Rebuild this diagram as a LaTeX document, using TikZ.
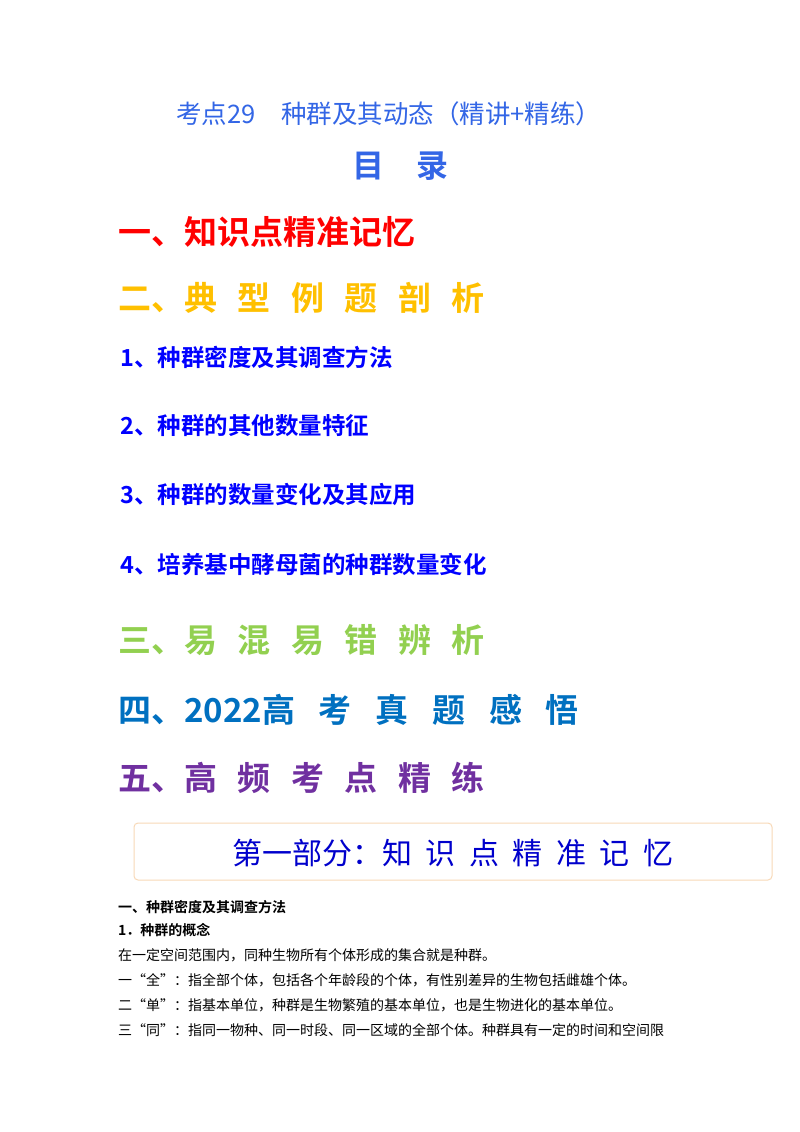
\documentclass[tikz,border=0pt]{standalone}
\usepackage{fontspec}
\newfontfamily\cjk{Noto Sans CJK SC}
\newfontfamily\cjkb{Noto Sans CJK SC Bold}
\definecolor{tblue}{HTML}{3366E6}
\definecolor{hred}{HTML}{FF0000}
\definecolor{horange}{HTML}{FFC000}
\definecolor{hblue}{HTML}{0000FF}
\definecolor{hgreen}{HTML}{92D050}
\definecolor{hsea}{HTML}{0070C0}
\definecolor{hpurple}{HTML}{7030A0}
\definecolor{boxline}{HTML}{F8D9B8}
\definecolor{boxtext}{HTML}{0000CC}
\newcommand{\gp}{\hspace{0.62em}}
\newcommand{\gr}{\hspace{0.72em}}
\newcommand{\gq}{\hspace{0.45em}}
\tikzset{
  big/.style={anchor=west,inner sep=0pt,font=\cjkb\fontsize{33}{36}\selectfont},
  item/.style={anchor=west,inner sep=0pt,font=\cjkb\fontsize{23.5}{25}\selectfont,text=hblue},
  body/.style={anchor=west,inner sep=0pt,font=\cjk\fontsize{14}{16}\selectfont},
  bodyb/.style={anchor=west,inner sep=0pt,font=\cjkb\fontsize{14}{16}\selectfont}
}
\begin{document}
\begin{tikzpicture}[x=1pt,y=-1pt]
\useasboundingbox (0,0) rectangle (800,1132);
\fill[white] (0,0) rectangle (800,1132);
\node[anchor=west,inner sep=0pt,text=tblue,font=\cjk\fontsize{25.5}{28}\selectfont] (t) at (176,114) {考点29\hspace{1em}种群及其动态（精讲+精练）};
\node[inner sep=0pt,text=tblue,font=\cjkb\fontsize{32}{34}\selectfont] (ml) at (400,166) {目\hspace{1em}录};
\node[big,text=hred] (h1) at (118,232) {一、知识点精准记忆};
\node[big,text=horange] (h2) at (118,298) {二、典\gp 型\gp 例\gp 题\gp 剖\gp 析};
\node[item] (i1) at (120,357) {1、种群密度及其调查方法};
\node[item] (i2) at (120,426) {2、种群的其他数量特征};
\node[item] (i3) at (120,495) {3、种群的数量变化及其应用};
\node[item] (i4) at (120,564) {4、培养基中酵母菌的种群数量变化};
\node[big,text=hgreen] (h3) at (118,640) {三、易\gp 混\gp 易\gp 错\gp 辨\gp 析};
\node[big,text=hsea] (h4) at (118,710) {四、2022高\gr 考\gr 真\gr 题\gr 感\gr 悟};
\node[big,text=hpurple] (h5) at (118,778) {五、高\gp 频\gp 考\gp 点\gp 精\gp 练};
\draw[boxline,line width=1pt,rounded corners=4pt] (134,823) rectangle (772,880);
\node[inner sep=0pt,text=boxtext,font=\cjk\fontsize{30}{32}\selectfont] (bx) at (453,853) {第一部分：知\gq 识\gq 点\gq 精\gq 准\gq 记\gq 忆};
\node[bodyb] (s1) at (118,907) {一、种群密度及其调查方法};
\node[bodyb] (s2) at (118,930) {1．种群的概念};
\node[body] (p1) at (118,955) {在一定空间范围内，同种生物所有个体形成的集合就是种群。};
\node[body] (p2) at (118,980) {一“全”：指全部个体，包括各个年龄段的个体，有性别差异的生物包括雌雄个体。};
\node[body] (p3) at (118,1005) {二“单”：指基本单位，种群是生物繁殖的基本单位，也是生物进化的基本单位。};
\node[body] (p4) at (118,1030) {三“同”：指同一物种、同一时段、同一区域的全部个体。种群具有一定的时间和空间限};
\end{tikzpicture}
\end{document}
